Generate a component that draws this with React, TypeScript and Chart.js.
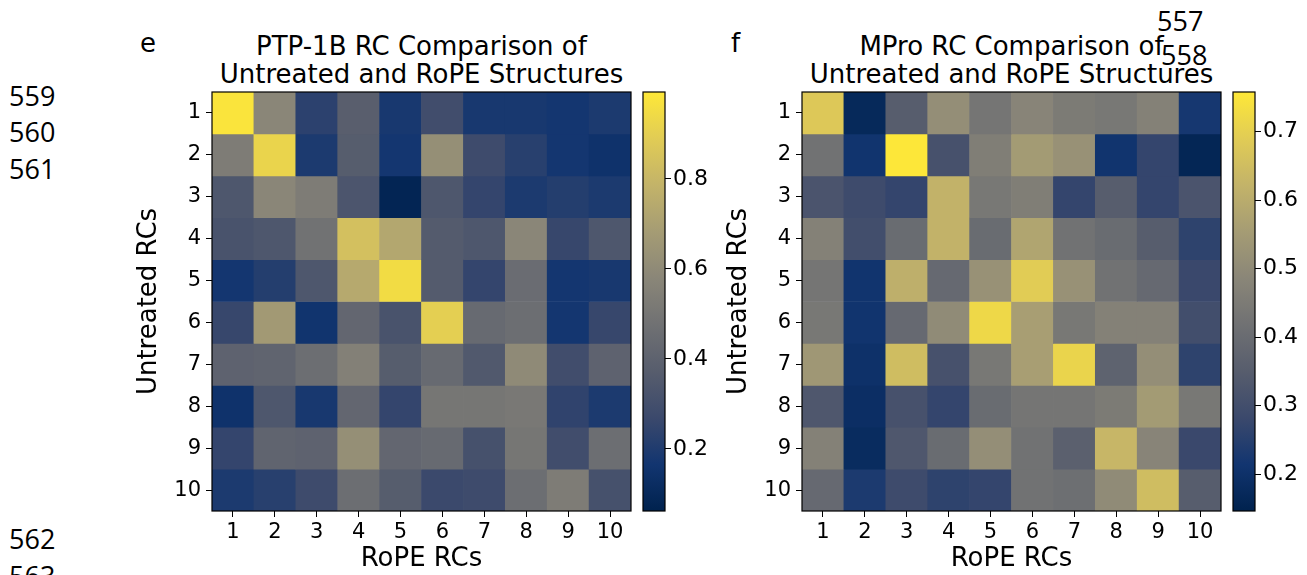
import React, { useEffect, useRef } from "react";
import { Chart, registerables } from "chart.js";
Chart.register(...registerables);

// ---------- data ----------
const rcLabels = ["1", "2", "3", "4", "5", "6", "7", "8", "9", "10"];

const ptpTitle = ["PTP-1B RC Comparison of", "Untreated and RoPE Structures"];
const mproTitle = ["MPro RC Comparison of", "Untreated and RoPE Structures"];
const xAxisTitle = "RoPE RCs";
const yAxisTitle = "Untreated RCs";

// rows = untreated RCs 1..10, columns = RoPE RCs 1..10
const ptpValues: number[][] = [
  [0.98, 0.58, 0.23, 0.38, 0.18, 0.29, 0.18, 0.18, 0.17, 0.19],
  [0.53, 0.92, 0.19, 0.37, 0.17, 0.62, 0.28, 0.22, 0.17, 0.15],
  [0.34, 0.58, 0.53, 0.33, 0.08, 0.34, 0.25, 0.19, 0.21, 0.19],
  [0.32, 0.34, 0.48, 0.84, 0.73, 0.36, 0.34, 0.58, 0.26, 0.34],
  [0.17, 0.21, 0.34, 0.74, 0.95, 0.36, 0.25, 0.45, 0.17, 0.18],
  [0.26, 0.67, 0.16, 0.42, 0.32, 0.9, 0.44, 0.46, 0.17, 0.26],
  [0.4, 0.41, 0.46, 0.55, 0.37, 0.44, 0.35, 0.6, 0.29, 0.4],
  [0.15, 0.34, 0.18, 0.42, 0.25, 0.5, 0.5, 0.51, 0.24, 0.19],
  [0.25, 0.41, 0.4, 0.62, 0.42, 0.44, 0.31, 0.5, 0.29, 0.46],
  [0.19, 0.22, 0.28, 0.46, 0.37, 0.27, 0.28, 0.46, 0.53, 0.31],
];

const mproValues: number[][] = [
  [0.68, 0.17, 0.35, 0.51, 0.43, 0.48, 0.45, 0.44, 0.47, 0.22],
  [0.42, 0.21, 0.755, 0.31, 0.46, 0.55, 0.52, 0.21, 0.27, 0.16],
  [0.32, 0.29, 0.27, 0.62, 0.44, 0.46, 0.27, 0.35, 0.27, 0.32],
  [0.47, 0.3, 0.4, 0.62, 0.4, 0.58, 0.42, 0.4, 0.35, 0.26],
  [0.43, 0.21, 0.61, 0.39, 0.52, 0.69, 0.52, 0.42, 0.39, 0.28],
  [0.44, 0.21, 0.39, 0.5, 0.72, 0.56, 0.44, 0.47, 0.47, 0.3],
  [0.54, 0.2, 0.65, 0.31, 0.44, 0.56, 0.71, 0.37, 0.51, 0.26],
  [0.33, 0.19, 0.31, 0.27, 0.4, 0.43, 0.43, 0.45, 0.55, 0.44],
  [0.47, 0.18, 0.33, 0.4, 0.51, 0.42, 0.36, 0.63, 0.48, 0.28],
  [0.39, 0.23, 0.29, 0.26, 0.27, 0.42, 0.41, 0.5, 0.65, 0.35],
];

const ptpRange = [0.062, 0.993];
const mproRange = [0.146, 0.758];
const ptpColorbarTicks = [0.2, 0.4, 0.6, 0.8];
const mproColorbarTicks = [0.2, 0.3, 0.4, 0.5, 0.6, 0.7];

const lineNumbersLeft = ["559", "560", "561", "562", "563"];
const lineNumbersRight = ["557", "558"];
const panelLetters = ["e", "f"];

// ---------- colormap (cividis) ----------
const CIVIDIS: number[][] = [
  [0, 34, 78],
  [18, 53, 112],
  [59, 73, 108],
  [87, 93, 109],
  [112, 113, 115],
  [138, 134, 120],
  [165, 156, 116],
  [195, 179, 105],
  [225, 204, 85],
  [254, 232, 56],
];

function cividis(t: number): string {
  const tt = Math.max(0, Math.min(1, t));
  const n = CIVIDIS.length - 1;
  const p = tt * n;
  const i = Math.min(n - 1, Math.floor(p));
  const f = p - i;
  const a = CIVIDIS[i];
  const b = CIVIDIS[i + 1];
  const c = a.map((v, k) => Math.round(v + (b[k] - v) * f));
  return `rgb(${c[0]},${c[1]},${c[2]})`;
}

const FONT = "'DejaVu Sans', sans-serif";
Chart.defaults.font.family = FONT;
Chart.defaults.color = "#000";

const framePlugin = {
  id: "frame",
  afterDraw(chart: any) {
    const { ctx, chartArea: a } = chart;
    ctx.save();
    ctx.strokeStyle = "#000";
    ctx.lineWidth = 1.2;
    ctx.strokeRect(a.left, a.top, a.width, a.height);
    ctx.restore();
  },
};

const noPad = (s: any) => {
  s.paddingTop = 0;
  s.paddingBottom = 0;
  s.paddingLeft = 0;
  s.paddingRight = 0;
};

function makeHeatmap(canvas: HTMLCanvasElement, values: number[][], range: number[]) {
  const datasets = values.map((row, r) => ({
    label: `Untreated RC ${rcLabels[r]}`,
    data: row.map(() => [r + 0.5, r + 1.5]),
    backgroundColor: row.map((v) => cividis((v - range[0]) / (range[1] - range[0]))),
    borderWidth: 0,
    barPercentage: 1,
    categoryPercentage: 1,
    grouped: false,
  }));
  return new Chart(canvas, {
    type: "bar",
    data: { labels: rcLabels, datasets: datasets as any },
    plugins: [framePlugin],
    options: {
      responsive: false,
      animation: false,
      layout: { padding: { left: 0, right: 9, top: 12, bottom: 0 } },
      plugins: { legend: { display: false }, tooltip: { enabled: false } },
      scales: {
        x: {
          type: "category",
          offset: true,
          grid: { offset: false, drawOnChartArea: false, tickLength: 6, tickColor: "#000", lineWidth: 1 },
          border: { display: false },
          ticks: { font: { size: 21 }, color: "#000", padding: 3, maxRotation: 0, autoSkip: false },
          title: { display: true, text: xAxisTitle, font: { size: 26 }, color: "#000", padding: { top: 0, bottom: 0 } },
          afterFit: (s: any) => {
            s.height = 64;
            noPad(s);
          },
        },
        y: {
          type: "linear",
          reverse: true,
          min: 0.5,
          max: 10.5,
          grid: { drawOnChartArea: false, tickLength: 6, tickColor: "#000", lineWidth: 1 },
          border: { display: false },
          afterBuildTicks: (s: any) => {
            s.ticks = rcLabels.map((_, i) => ({ value: i + 1 }));
          },
          ticks: {
            font: { size: 21 },
            color: "#000",
            padding: 5,
            callback: (v: any) => rcLabels[Math.round(Number(v)) - 1],
          },
          title: { display: true, text: yAxisTitle, font: { size: 26 }, color: "#000", padding: { top: 34, bottom: 0 } },
          afterFit: (s: any) => {
            s.width = 112;
            noPad(s);
          },
        },
      },
    } as any,
  });
}

function makeColorbar(canvas: HTMLCanvasElement, range: number[], ticks: number[]) {
  return new Chart(canvas, {
    type: "bar",
    data: {
      labels: [""],
      datasets: [
        {
          data: [[range[0], range[1]]] as any,
          backgroundColor: (c: any) => {
            const area = c.chart.chartArea;
            if (!area) return "transparent";
            const g = c.chart.ctx.createLinearGradient(0, area.bottom, 0, area.top);
            CIVIDIS.forEach((col, i) => g.addColorStop(i / (CIVIDIS.length - 1), `rgb(${col[0]},${col[1]},${col[2]})`));
            return g;
          },
          borderWidth: 0,
          barPercentage: 1,
          categoryPercentage: 1,
        },
      ],
    },
    plugins: [framePlugin],
    options: {
      responsive: false,
      animation: false,
      layout: { padding: { left: 3, right: 0, top: 12, bottom: 64 } },
      plugins: { legend: { display: false }, tooltip: { enabled: false } },
      scales: {
        x: {
          display: false,
          afterFit: (s: any) => noPad(s),
        },
        y: {
          position: "right",
          min: range[0],
          max: range[1],
          grid: { drawOnChartArea: false, tickLength: 6, tickColor: "#000", lineWidth: 1 },
          border: { display: false },
          afterBuildTicks: (s: any) => {
            s.ticks = ticks.map((v) => ({ value: v }));
          },
          ticks: { font: { size: 22 }, color: "#000", padding: 2, callback: (v: any) => Number(v).toFixed(1) },
          afterFit: (s: any) => {
            s.width = 52;
            noPad(s);
          },
        },
      },
    } as any,
  });
}

const txt = (extra: React.CSSProperties): React.CSSProperties => ({
  position: "absolute",
  whiteSpace: "nowrap",
  color: "#000",
  ...extra,
});

export default function App() {
  const h1 = useRef<HTMLCanvasElement>(null);
  const c1 = useRef<HTMLCanvasElement>(null);
  const h2 = useRef<HTMLCanvasElement>(null);
  const c2 = useRef<HTMLCanvasElement>(null);

  useEffect(() => {
    const charts = [
      makeHeatmap(h1.current!, ptpValues, ptpRange),
      makeColorbar(c1.current!, ptpRange, ptpColorbarTicks),
      makeHeatmap(h2.current!, mproValues, mproRange),
      makeColorbar(c2.current!, mproRange, mproColorbarTicks),
    ];
    return () => charts.forEach((c) => c.destroy());
  }, []);

  const canvasStyle = (left: number, top: number, w: number, h: number): React.CSSProperties => ({
    position: "absolute",
    left,
    top,
    width: w,
    height: h,
  });

  const lineNumStyle = (left: number, top: number) =>
    txt({ left, top, font: "27px 'Open Sans', sans-serif", lineHeight: "26px" });

  const titleStyle = (cx: number) =>
    txt({
      left: cx,
      top: 32,
      transform: "translateX(-50%)",
      textAlign: "center",
      font: `26px ${FONT}`,
      lineHeight: "28px",
    });

  return (
    <div style={{ position: "absolute", left: 0, top: 0, width: 1307, height: 575, overflow: "hidden", background: "#fff" }}>
      {/* line numbers */}
      <div style={lineNumStyle(9, 83)}>{lineNumbersLeft[0]}</div>
      <div style={lineNumStyle(9, 119)}>{lineNumbersLeft[1]}</div>
      <div style={lineNumStyle(9, 156)}>{lineNumbersLeft[2]}</div>
      <div style={lineNumStyle(9, 526)}>{lineNumbersLeft[3]}</div>
      <div style={lineNumStyle(9, 563)}>{lineNumbersLeft[4]}</div>
      {/* panel letters */}
      <div style={txt({ left: 140, top: 29, font: `26px ${FONT}`, lineHeight: "28px" })}>{panelLetters[0]}</div>
      <div style={txt({ left: 731, top: 29, font: `26px ${FONT}`, lineHeight: "28px" })}>{panelLetters[1]}</div>
      {/* titles */}
      <div style={titleStyle(421.5)}>
        {ptpTitle[0]}
        <br />
        {ptpTitle[1]}
      </div>
      <div style={titleStyle(1011.5)}>
        {mproTitle[0]}
        <br />
        {mproTitle[1]}
      </div>
      {/* charts */}
      <canvas ref={h1} width={540} height={495} style={canvasStyle(100, 80, 540, 495)} />
      <canvas ref={c1} width={77} height={495} style={canvasStyle(640, 80, 77, 495)} />
      <canvas ref={h2} width={540} height={495} style={canvasStyle(690, 80, 540, 495)} />
      <canvas ref={c2} width={77} height={495} style={canvasStyle(1230, 80, 77, 495)} />
      {/* right-side line numbers (drawn over title, as in the page) */}
      <div style={lineNumStyle(1157, 8)}>{lineNumbersRight[0]}</div>
      <div style={lineNumStyle(1161, 42)}>{lineNumbersRight[1]}</div>
    </div>
  );
}
